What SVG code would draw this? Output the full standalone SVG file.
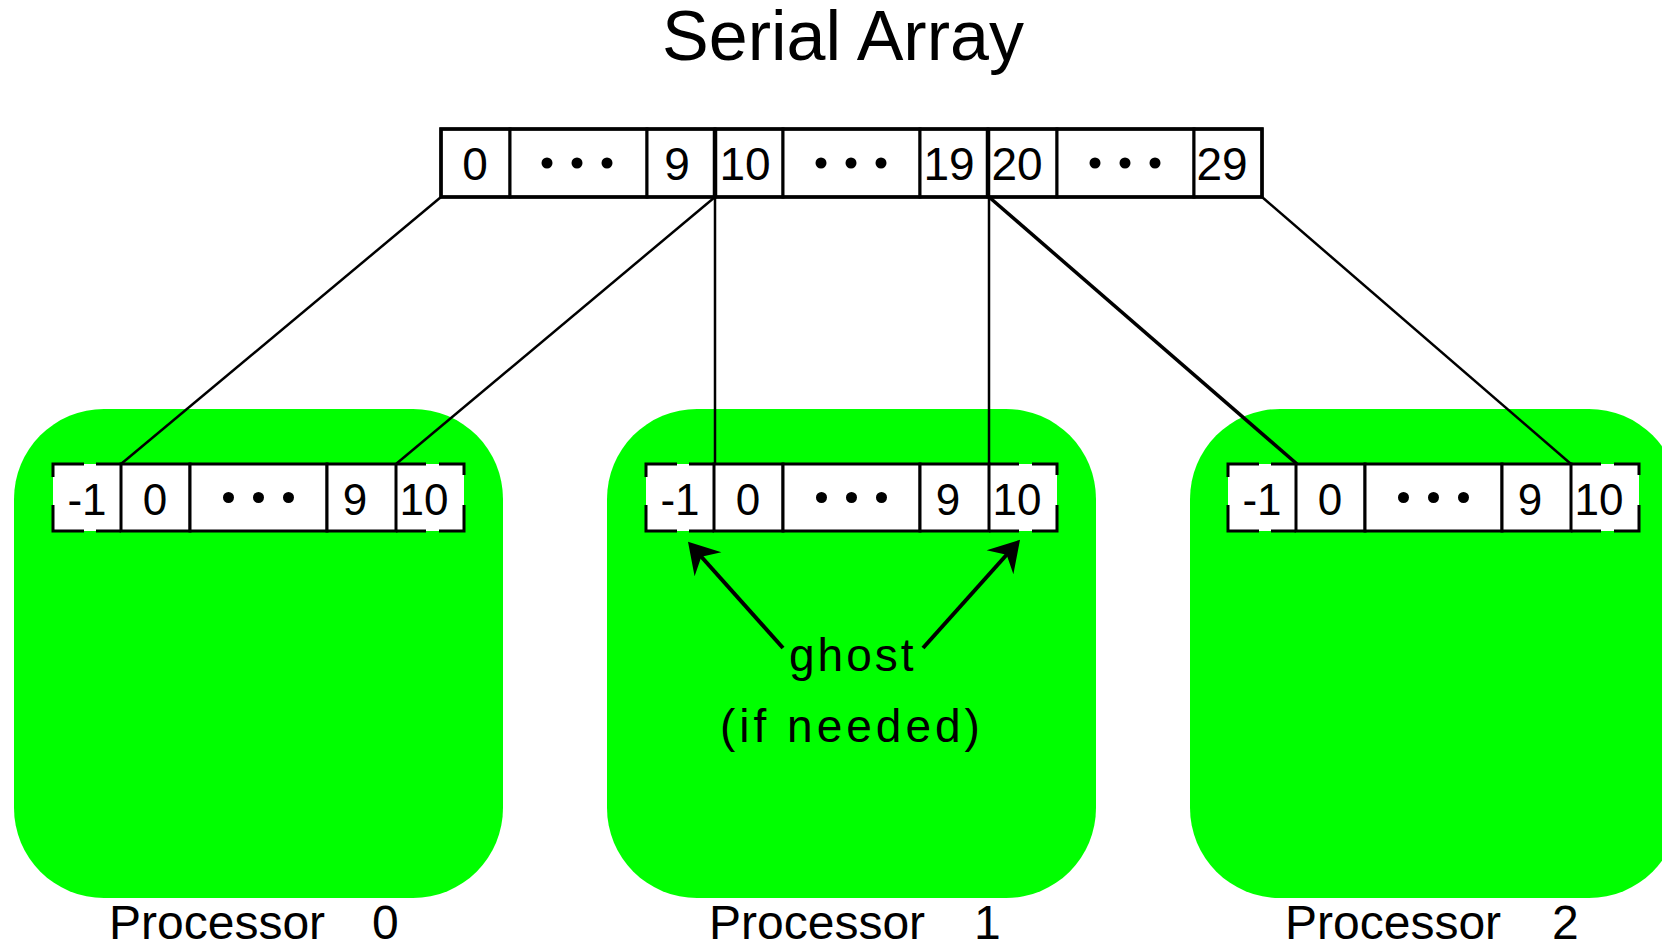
<svg xmlns="http://www.w3.org/2000/svg" width="1662" height="947" viewBox="0 0 1662 947">
  <style>
    text { font-family: "Liberation Sans", Arial, sans-serif; fill: #000; }
    .title { font-size: 70px; text-anchor: middle; }
    .num { font-size: 46px; text-anchor: middle; }
    .pnum { font-size: 44px; text-anchor: middle; }
    .label { font-size: 48px; }
    .note { font-size: 46px; letter-spacing: 3px; }
    .cell { fill: #fff; stroke: #000; stroke-width: 3; }
    .ghostfill { fill: #fff; stroke: none; }
    .edge { fill: none; stroke: #000; stroke-width: 3; }
    .thick { fill: none; stroke: #000; stroke-width: 4.5; }
    .proc { fill: #00ff00; }
    .dot { fill: #000; }
    .link { fill: none; stroke: #000; stroke-width: 2.5; }
    .arrow { fill: none; stroke: #000; stroke-width: 4; }
  </style>
  <defs>
    <marker id="head" markerUnits="userSpaceOnUse" markerWidth="40" markerHeight="40" viewBox="-20 -20 40 40" refX="0" refY="0" orient="auto" overflow="visible">
      <path d="M15,0 L-15,-18 L-5,0 L-15,18 Z" fill="#000"/>
    </marker>
    <!-- one distributed block: ghost -1 | 0 | ... | 9 | ghost 10 -->
    <g id="localArray">
      <rect class="ghostfill" x="0" y="0" width="68" height="67"/>
      <rect class="ghostfill" x="343" y="0" width="68" height="67"/>
      <rect class="cell" x="68" y="0" width="69" height="67"/>
      <rect class="cell" x="137" y="0" width="137" height="67"/>
      <rect class="cell" x="274" y="0" width="69" height="67"/>
      <!-- dashed outline of the ghost cells -->
      <path class="edge" d="M0,0 H31 M43,0 H68 M0,67 H31 M43,67 H68 M0,-1.5 V13 M0,41 V68.5"/>
      <path class="edge" d="M343,0 H373 M386,0 H411 M343,67 H373 M386,67 H411 M411,-1.5 V11 M411,41 V68.5"/>
      <circle class="dot" cx="175.5" cy="33.5" r="5.5"/>
      <circle class="dot" cx="205.5" cy="33.5" r="5.5"/>
      <circle class="dot" cx="235.5" cy="33.5" r="5.5"/>
      <text class="pnum" x="34" y="51">-1</text>
      <text class="pnum" x="102" y="51">0</text>
      <text class="pnum" x="302" y="51">9</text>
      <text class="pnum" x="371" y="51">10</text>
    </g>
  </defs>

  <rect width="1662" height="947" fill="#fff"/>

  <g id="title">
    <text class="title" x="843" y="60">Serial Array</text>
  </g>

  <!-- processor 0 -->
  <g id="processor0">
    <rect class="proc" x="14" y="409" width="489" height="489" rx="90" ry="90"/>
    <use href="#localArray" transform="translate(53,464)"/>
    <text class="label" x="109" y="939">Processor<tspan x="372">0</tspan></text>
  </g>

  <!-- processor 1 -->
  <g id="processor1">
    <rect class="proc" x="607" y="409" width="489" height="489" rx="90" ry="90"/>
    <use href="#localArray" transform="translate(646,464)"/>
    <text class="label" x="709" y="939">Processor<tspan x="974">1</tspan></text>
  </g>

  <!-- processor 2 -->
  <g id="processor2">
    <rect class="proc" x="1190" y="409" width="489" height="489" rx="90" ry="90"/>
    <use href="#localArray" transform="translate(1228,464)"/>
    <text class="label" x="1285" y="939">Processor<tspan x="1552">2</tspan></text>
  </g>

  <!-- global serial array 0..29 -->
  <g id="serialArray">
    <rect class="cell" x="441" y="129" width="69" height="68"/>
    <rect class="cell" x="510" y="129" width="137" height="68"/>
    <rect class="cell" x="647" y="129" width="68" height="68"/>
    <rect class="cell" x="715" y="129" width="68" height="68"/>
    <rect class="cell" x="783" y="129" width="137" height="68"/>
    <rect class="cell" x="920" y="129" width="68" height="68"/>
    <rect class="cell" x="988" y="129" width="69" height="68"/>
    <rect class="cell" x="1057" y="129" width="137" height="68"/>
    <rect class="cell" x="1194" y="129" width="68" height="68"/>
    <rect class="edge" x="441" y="129" width="821" height="68" style="stroke-width:3.5"/>
    <path class="thick" d="M715,129 V197 M988,129 V197"/>
    <circle class="dot" cx="547" cy="163" r="5.5"/>
    <circle class="dot" cx="577" cy="163" r="5.5"/>
    <circle class="dot" cx="607" cy="163" r="5.5"/>
    <circle class="dot" cx="821" cy="163" r="5.5"/>
    <circle class="dot" cx="851" cy="163" r="5.5"/>
    <circle class="dot" cx="881" cy="163" r="5.5"/>
    <circle class="dot" cx="1095" cy="163" r="5.5"/>
    <circle class="dot" cx="1125" cy="163" r="5.5"/>
    <circle class="dot" cx="1155" cy="163" r="5.5"/>
    <text class="num" x="475" y="180">0</text>
    <text class="num" x="677" y="180">9</text>
    <text class="num" x="745" y="180">10</text>
    <text class="num" x="949" y="180">19</text>
    <text class="num" x="1017" y="180">20</text>
    <text class="num" x="1222" y="180">29</text>
  </g>

  <!-- mapping of serial ranges onto the local blocks -->
  <g id="connectors">
    <line class="link" x1="441" y1="197" x2="121" y2="464"/>
    <line class="link" x1="715" y1="197" x2="396" y2="464"/>
    <line class="link" x1="715" y1="197" x2="715" y2="464"/>
    <line class="link" x1="989" y1="197" x2="989" y2="464"/>
    <line class="link" x1="989" y1="197" x2="1297" y2="464" style="stroke-width:3.5"/>
    <line class="link" x1="1262" y1="197" x2="1571" y2="464"/>
    <line class="arrow" x1="783" y1="648" x2="698" y2="553" marker-end="url(#head)"/>
    <line class="arrow" x1="923" y1="648" x2="1010" y2="551" marker-end="url(#head)"/>
  </g>

  <g id="ghostNote">
    <text class="note" x="789" y="671">ghost</text>
    <text class="note" x="720" y="742" style="letter-spacing:4px">(if needed)</text>
  </g>
</svg>
